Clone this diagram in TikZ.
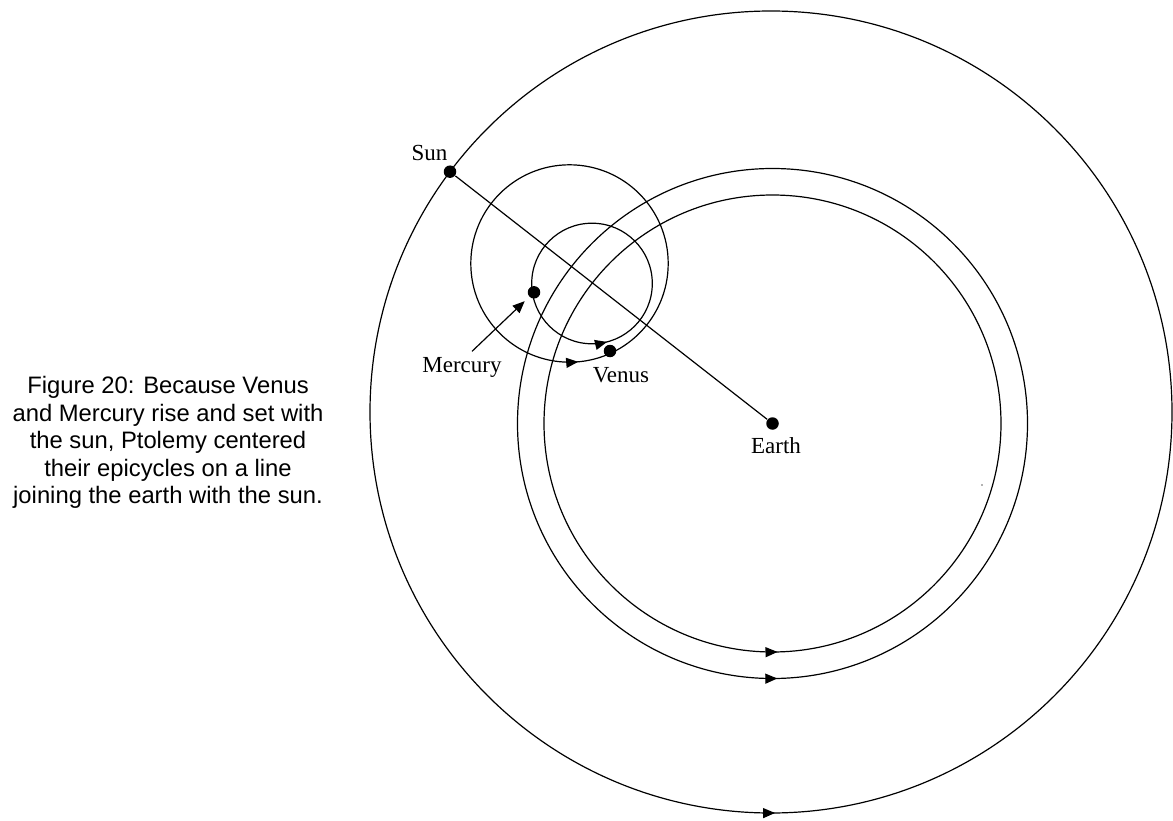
\documentclass[tikz,border=0pt]{standalone}
\usepackage{fontspec}
\setmainfont{Liberation Serif}
\newfontfamily\capfont{Liberation Sans}
\usetikzlibrary{arrows.meta,decorations.markings,calc}
\begin{document}
\begin{tikzpicture}[x=1pt,y=1pt, line width=1.2pt,
  orbit/.style={draw, postaction={decorate}, decoration={markings, mark=at position #1 with {\arrow{Triangle[length=12pt,width=10pt]}}}},
  body/.style={circle, fill=black, inner sep=0pt, minimum size=12.5pt},
  lbl/.style={font=\fontsize{23}{27}\selectfont, anchor=base, inner sep=0pt},
  pointer/.style={-{Triangle[length=12pt,width=10pt]}, shorten >=6pt},
  caption/.style={font=\capfont\fontsize{23.8}{27.4}\selectfont, align=center, anchor=north, inner sep=0pt}
]
\useasboundingbox (0,0) rectangle (1173,-821);

% centres
\coordinate (ctr) at (772.5,-423.5);
\coordinate (bigc) at (771,-412);
\coordinate (venc) at (569.5,-263.5);
\coordinate (merc) at (592,-283.5);

% orbits
\path[orbit=0.7516] (bigc) circle[radius=401];
\path[orbit=0.7535] (ctr) circle[radius=228.5];
\path[orbit=0.753] (ctr) circle[radius=255];
\path[orbit=0.764] (venc) circle[radius=98.7];
\path[orbit=0.79] (merc) circle[radius=60.3];

% bodies
\node[body] (sun) at (450,-171.7) {};
\node[body] (earth) at (772.5,-423.5) {};
\node[body] (mercury) at (534,-292.3) {};
\node[body] (venus) at (610,-351) {};
\draw (sun) -- (earth);

% labels
\node[lbl] (sunl) at (429.5,-161) {Sun};
\node[lbl] (mercl) at (462,-372) {Mercury};
\node[lbl] (venl) at (621,-382) {Venus};
\node[lbl] (earthl) at (776,-453) {Earth};
\draw[pointer] ($(mercl.north)+(10,5)$) -- (mercury);

% small speck
\fill[black!60] (982,-485) circle[radius=0.9];

% caption
\node[caption] (cap) at (168,-376) {Figure 20: Because Venus\\ and Mercury rise and set with\\ the sun, Ptolemy centered\\ their epicycles on a line\\ joining the earth with the sun.};
\end{tikzpicture}
\end{document}
